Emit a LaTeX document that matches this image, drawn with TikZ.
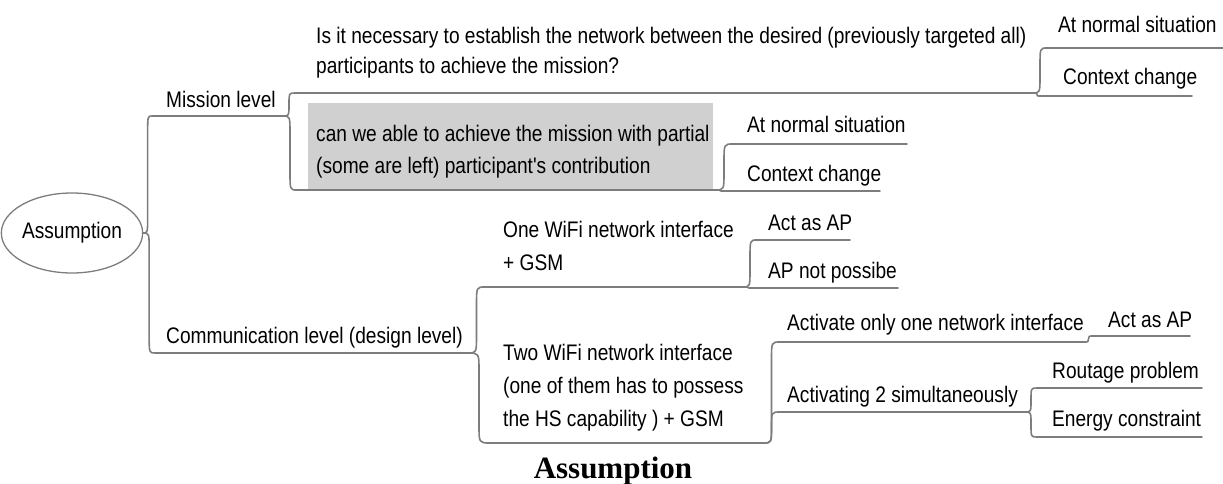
\documentclass[tikz,border=0pt]{standalone}
\usepackage{fontspec}
\setmainfont[FakeStretch=0.85,Ligatures=TeXOff]{Liberation Sans}
\newfontfamily\capfont{Liberation Serif}
\usetikzlibrary{calc,shapes.geometric}
\definecolor{linegray}{RGB}{125,125,125}
\definecolor{boxgray}{RGB}{208,208,208}
\newcommand\branch[2]{%
  \draw[ln] let \p1=(#1), \p2=(#2-s),
    \n1={0.5*(\x2-\x1)},
    \n2={(\y2>\y1 ? 1 : -1)*min(18,abs(\y2-\y1)/2)} in
    (\p1) .. controls ({\x1+\n1},\y1) .. ({\x1+\n1},{\y1+\n2})
    -- ({\x1+\n1},{\y2-\n2}) .. controls ({\x1+\n1},\y2) .. (\p2)
    -- (#2-e);}
\begin{document}
\begin{tikzpicture}[x=1pt,y=-1pt,
  lab/.style={anchor=base west, inner sep=0pt, align=left,
    font=\fontsize{22.5}{32}\selectfont},
  ln/.style={draw=linegray, line width=1.6pt, line cap=round, line join=round},
  rootnode/.style={draw=linegray, line width=1.3pt, ellipse, inner sep=0pt,
    minimum width=121pt, minimum height=80pt, font=\fontsize{22.5}{24}\selectfont},
  captext/.style={anchor=base, inner sep=0pt, font=\capfont\bfseries\fontsize{31}{36}\selectfont}
]
\useasboundingbox (0,0) rectangle (1223,484);

% gray highlight box
\fill[boxgray] (308,103) rectangle (713,190);

% root
\node[rootnode] (root) at (72,233) {Assumption};

% texts (multi-line nodes: base = last line)
\node[lab] (ml) at (166,108) {Mission level};
\node[lab, font=\fontsize{22.5}{30}\selectfont] (q) at (316,74)
  {Is it necessary to establish the network between the desired (previously targeted all)\\participants to achieve the mission?};
\node[lab] (gb) at (316,173) {can we able to achieve the mission with partial\\(some are left) participant's contribution};
\node[lab] (gb-a) at (747,133) {At normal situation};
\node[lab] (gb-c) at (747,181) {Context change};
\node[lab] (q-a) at (1058,33) {At normal situation};
\node[lab] (q-c) at (1063,85) {Context change};
\node[lab] (cl) at (166,343) {Communication level (design level)};
\node[lab, font=\fontsize{22.5}{33}\selectfont] (ow) at (503,270) {One WiFi network interface\\+ GSM};
\node[lab] (ow-a) at (768,230) {Act as AP};
\node[lab] (ow-b) at (768,278) {AP not possibe};
\node[lab, font=\fontsize{22.5}{33}\selectfont] (tw) at (503,426) {Two WiFi network interface\\(one of them has to possess\\the HS capability ) + GSM};
\node[lab] (a1) at (787,330) {Activate only one network interface};
\node[lab] (a1-a) at (1108,327) {Act as AP};
\node[lab] (a2) at (787,402) {Activating 2 simultaneously};
\node[lab] (a2-r) at (1052,378) {Routage problem};
\node[lab] (a2-g) at (1052,426) {Energy constraint};
\node[captext] (caption) at (613,478) {Assumption};

% underline ends
\coordinate (ml-s) at (152,116);   \coordinate (ml-e) at (283,116);
\coordinate (q-s) at (295,93);     \coordinate (q-e) at (1033,93);
\coordinate (gb-s) at (297,190);   \coordinate (gb-e) at (715,190);
\coordinate (gb-a-s) at (733,144); \coordinate (gb-a-e) at (907,144);
\coordinate (gb-c-s) at (725,191); \coordinate (gb-c-e) at (880,191);
\coordinate (q-a-s) at (1047,48);  \coordinate (q-a-e) at (1223,48);
\coordinate (q-c-s) at (1041,96);  \coordinate (q-c-e) at (1192,96);
\coordinate (cl-s) at (155,353);   \coordinate (cl-e) at (468,353);
\coordinate (ow-s) at (485,287);   \coordinate (ow-e) at (743,287);
\coordinate (ow-a-s) at (757,240); \coordinate (ow-a-e) at (850,240);
\coordinate (ow-b-s) at (753,288); \coordinate (ow-b-e) at (898,288);
\coordinate (tw-s) at (490,443);   \coordinate (tw-e) at (763,443);
\coordinate (a1-s) at (780,342);   \coordinate (a1-e) at (1083,342);
\coordinate (a1-a-s) at (1094,336);\coordinate (a1-a-e) at (1190,336);
\coordinate (a2-s) at (780,412);   \coordinate (a2-e) at (1025,412);
\coordinate (a2-r-s) at (1037,388);\coordinate (a2-r-e) at (1202,388);
\coordinate (a2-g-s) at (1037,437);\coordinate (a2-g-e) at (1202,437);

% connectors
\branch{root.east}{ml}
\branch{root.east}{cl}
\branch{ml-e}{q}
\branch{ml-e}{gb}
\branch{q-e}{q-a}
\branch{q-e}{q-c}
\branch{gb-e}{gb-a}
\branch{gb-e}{gb-c}
\branch{cl-e}{ow}
\branch{cl-e}{tw}
\branch{ow-e}{ow-a}
\branch{ow-e}{ow-b}
\branch{tw-e}{a1}
\branch{tw-e}{a2}
\branch{a1-e}{a1-a}
\branch{a2-e}{a2-r}
\branch{a2-e}{a2-g}
\end{tikzpicture}
\end{document}
